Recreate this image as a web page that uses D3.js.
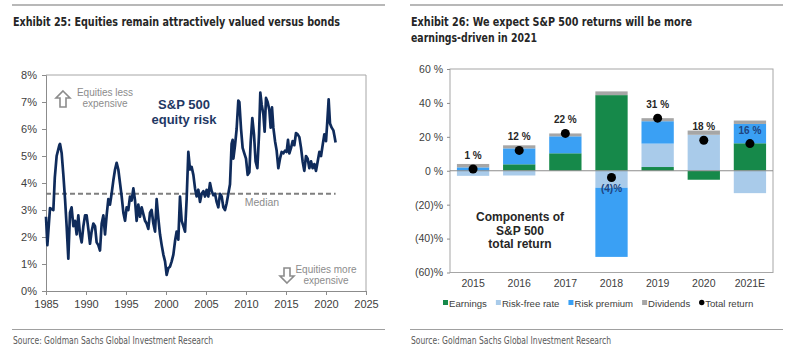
<!DOCTYPE html>
<html>
<head>
<meta charset="utf-8" />
<title>Exhibits 25 and 26</title>
<script src="https://cdn.jsdelivr.net/npm/d3@7"></script>
<style>
  body { margin: 0; background: #fff; }
  svg text { font-family: "Liberation Sans", Arial, sans-serif; }
  .title { font-family: "Liberation Sans Narrow", "DejaVu Sans Condensed", sans-serif; font-weight: bold; font-size: 13px; fill: #262626; }
  .source { font-family: "Liberation Sans Narrow", "DejaVu Sans Condensed", sans-serif; font-size: 10.5px; fill: #595959; }
  .axis text { font-size: 10.5px; fill: #404040; }
  .axis path, .axis line { stroke: #8c8c8c; }
</style>
</head>
<body>
<svg id="chart" width="796" height="352"></svg>
<script>
// ---- Exhibit 25 data: S&P 500 equity risk premium (%)
var erpYears = [1985.0, 1985.17, 1985.5, 1985.92, 1986.1, 1986.33, 1986.67, 1986.75, 1986.96, 1987.17,
  1987.38, 1987.58, 1987.79, 1988.0, 1988.2, 1988.42, 1988.63, 1988.83, 1989.04, 1989.25,
  1989.46, 1989.67, 1989.88, 1990.08, 1990.29, 1990.5, 1990.7, 1990.92, 1991.13, 1991.33,
  1991.54, 1991.75, 1991.96, 1992.17, 1992.38, 1992.58, 1992.79, 1993.0, 1993.2, 1993.42,
  1993.63, 1993.83, 1994.04, 1994.25, 1994.46, 1994.67, 1994.88, 1995.08, 1995.29, 1995.5,
  1995.7, 1995.92, 1996.13, 1996.33, 1996.54, 1996.75, 1996.96, 1997.17, 1997.38, 1997.58,
  1997.79, 1998.0, 1998.2, 1998.42, 1998.63, 1998.83, 1999.04, 1999.25, 1999.46, 1999.67,
  1999.88, 2000.08, 2000.29, 2000.5, 2000.71, 2000.92, 2001.13, 2001.33, 2001.54, 2001.75,
  2001.96, 2002.17, 2002.38, 2002.58, 2002.79, 2003.0, 2003.2, 2003.42, 2003.63, 2003.83,
  2004.04, 2004.25, 2004.46, 2004.67, 2004.88, 2005.08, 2005.29, 2005.5, 2005.71, 2005.92,
  2006.13, 2006.33, 2006.54, 2006.75, 2006.96, 2007.17, 2007.38, 2007.58, 2007.79, 2008.0,
  2008.2, 2008.33, 2008.42, 2008.63, 2008.83, 2009.04, 2009.17, 2009.38, 2009.58, 2009.79,
  2010.0, 2010.21, 2010.42, 2010.58, 2010.79, 2011.0, 2011.2, 2011.42, 2011.63, 2011.79,
  2011.96, 2012.17, 2012.33, 2012.5, 2012.7, 2012.92, 2013.08, 2013.25, 2013.42, 2013.63,
  2013.83, 2014.04, 2014.25, 2014.46, 2014.67, 2014.88, 2015.08, 2015.25, 2015.42, 2015.63,
  2015.83, 2016.04, 2016.25, 2016.46, 2016.67, 2016.88, 2017.08, 2017.29, 2017.5, 2017.71,
  2017.92, 2018.13, 2018.33, 2018.54, 2018.75, 2018.96, 2019.17, 2019.38, 2019.58, 2019.79,
  2020.0, 2020.17, 2020.33, 2020.5, 2020.71, 2020.92, 2021.08, 2021.2];
var erpValues = [2.75, 1.7, 3.07, 3.0, 4.2, 5.0, 5.4, 5.45, 5.1, 4.3,
  3.4, 2.4, 1.2, 2.9, 3.1, 2.4, 2.6, 2.1, 2.8, 2.1,
  1.8, 2.4, 2.8, 2.8, 2.3, 1.75, 2.2, 2.5, 2.4, 1.8,
  1.7, 1.5, 2.5, 2.8, 2.1, 2.8, 3.4, 3.2, 3.6, 4.1,
  4.5, 4.75, 4.5, 4.0, 3.5, 2.9, 2.6, 3.1, 3.0, 3.5,
  3.35, 3.8, 3.35, 2.6, 3.2, 2.75, 3.1, 2.85, 2.6, 2.5,
  2.3, 2.9, 3.0, 2.5, 2.2, 3.4, 2.7, 2.1, 1.7, 1.35,
  1.1, 0.6, 0.85, 0.9, 1.1, 1.35, 1.85, 2.2, 1.9, 3.5,
  2.6, 2.4, 2.2, 3.4, 5.15, 4.5, 4.6, 4.3, 3.8, 3.5,
  3.75, 3.3, 3.6, 3.7, 3.5, 3.75, 3.5, 4.0, 3.7, 3.55,
  3.6, 3.3, 3.1, 3.6, 3.5, 3.1, 3.0, 3.25, 3.6, 3.95,
  5.45, 5.6, 4.9, 5.4, 6.0, 7.05, 7.0, 6.0, 5.3, 5.1,
  4.9, 4.3, 4.4, 5.5, 6.4, 5.8, 4.8, 4.55, 5.8, 7.35,
  6.9, 6.55, 5.9, 7.15, 7.0, 6.7, 6.05, 6.8, 6.05, 5.55,
  5.2, 4.55, 4.9, 5.15, 5.1, 5.2, 5.15, 5.6, 5.1, 5.3,
  5.55, 5.4, 5.85, 5.8, 5.7, 5.3, 4.8, 4.45, 5.0, 4.9,
  4.55, 4.8, 4.55, 4.7, 4.45, 4.8, 5.15, 5.0, 5.4, 5.8,
  5.55, 6.3, 7.1, 6.2, 6.05, 5.95, 5.7, 5.5];
var erpMedian = 3.6;
var erpYearTicks = [1985, 1990, 1995, 2000, 2005, 2010, 2015, 2020, 2025];
var erpPctTicks = [0, 1, 2, 3, 4, 5, 6, 7, 8];

// ---- Exhibit 26 data: components of S&P 500 total return (%)
var retCategories = ["2015", "2016", "2017", "2018", "2019", "2020", "2021E"];
var earnings    = [0.0, 3.8, 10.3, 44.6, 2.2, -5.3, 16.2];
var riskFree    = [-3.0, -2.8, 0.0, -10.0, 13.8, 21.2, -13.2];
var riskPremium = [2.0, 9.4, 10.0, -40.8, 13.2, 0.0, 11.4];
var dividends   = [2.0, 1.8, 1.7, 2.2, 1.8, 2.5, 2.0];
var totalReturn = [1, 12, 22, -4, 31, 18, 16];
var totalLabels = ["1 %", "12 %", "22 %", "(4)%", "31 %", "18 %", "16 %"];
var retPctTicks = [-60, -40, -20, 0, 20, 40, 60];
var seriesNames = ["Earnings", "Risk-free rate", "Risk premium", "Dividends"];

var svg = d3.select("#chart");
svg.append("rect").attr("width", 796).attr("height", 352).attr("fill", "#fff");

// header / footer rules and texts
function frameText(x0, x1, titles, widths) {
  svg.append("line").attr("x1", x0).attr("x2", x1).attr("y1", 5).attr("y2", 5)
    .attr("stroke", "#a0a0a0").attr("stroke-width", 1.5);
  svg.append("line").attr("x1", x0).attr("x2", x1).attr("y1", 329.5).attr("y2", 329.5)
    .attr("stroke", "#a0a0a0").attr("stroke-width", 1);
  titles.forEach(function(t, i) {
    svg.append("text").attr("class", "title").attr("x", x0 + 1).attr("y", 26 + i * 15.5)
      .attr("textLength", widths[i]).attr("lengthAdjust", "spacingAndGlyphs").text(t);
  });
  svg.append("text").attr("class", "source").attr("x", x0 + 1).attr("y", 344)
    .attr("textLength", 200).attr("lengthAdjust", "spacingAndGlyphs")
    .text("Source: Goldman Sachs Global Investment Research");
}
frameText(12, 385, ["Exhibit 25: Equities remain attractively valued versus bonds"], [327]);
frameText(410, 783, ["Exhibit 26: We expect S&P 500 returns will be more", "earnings-driven in 2021"], [281, 126]);

// ================= Exhibit 25 =================
var x1 = d3.scaleLinear().domain([1985, 2025]).range([46, 366]);
var y1 = d3.scaleLinear().domain([0, 8]).range([291, 75]);
var g1 = svg.append("g");

// top / right frame
g1.append("path").attr("d", "M" + x1(1985) + "," + y1(8) + "H" + x1(2025) + "V" + y1(0))
  .attr("fill", "none").attr("stroke", "#a6a6a6");

g1.append("g").attr("class", "axis").attr("transform", "translate(0," + y1(0) + ")")
  .call(d3.axisBottom(x1).tickValues(erpYearTicks).tickFormat(d3.format("d")).tickSize(4).tickPadding(5))
  .selectAll("text").style("font-size", "11px");
g1.append("g").attr("class", "axis").attr("transform", "translate(" + x1(1985) + ",0)")
  .call(d3.axisLeft(y1).tickValues(erpPctTicks).tickFormat(function(d) { return d + "%"; }).tickSize(4).tickPadding(5))
  .selectAll("text").style("font-size", "11px");

// median
g1.append("line").attr("x1", x1(1985)).attr("x2", x1(2021.2))
  .attr("y1", y1(erpMedian)).attr("y2", y1(erpMedian))
  .attr("stroke", "#7f7f7f").attr("stroke-width", 2).attr("stroke-dasharray", "5,3");
g1.append("text").attr("x", 262).attr("y", y1(erpMedian) + 12).attr("text-anchor", "middle")
  .attr("font-size", 10.5).attr("fill", "#8c8c8c").text("Median");

// series line
var erpLine = d3.line().x(function(d, i) { return x1(erpYears[i]); }).y(function(d) { return y1(d); });
g1.append("path").datum(erpValues).attr("d", erpLine).attr("fill", "none")
  .attr("stroke", "#0f2b5b").attr("stroke-width", 2.7).attr("stroke-linejoin", "round");

// labels
g1.append("text").attr("x", 184).attr("y", 109).attr("text-anchor", "middle")
  .attr("font-size", 13).attr("font-weight", "bold").attr("fill", "#1f3864").text("S&P 500");
g1.append("text").attr("x", 184).attr("y", 124).attr("text-anchor", "middle")
  .attr("font-size", 13).attr("font-weight", "bold").attr("fill", "#1f3864").text("equity risk");

function blockArrow(cx, top, bottom, up) {
  var head = 7, hw = 7, sw = 3;
  var p = up
    ? [[cx, top], [cx + hw, top + head], [cx + sw, top + head], [cx + sw, bottom], [cx - sw, bottom], [cx - sw, top + head], [cx - hw, top + head]]
    : [[cx, bottom], [cx + hw, bottom - head], [cx + sw, bottom - head], [cx + sw, top], [cx - sw, top], [cx - sw, bottom - head], [cx - hw, bottom - head]];
  g1.append("path").attr("d", "M" + p.join("L") + "Z").attr("fill", "#fff")
    .attr("stroke", "#8c8c8c").attr("stroke-width", 1.6);
}
blockArrow(63, 91, 107, true);
blockArrow(287, 268, 283, false);
[["Equities less", 96], ["expensive", 107]].forEach(function(t) {
  g1.append("text").attr("x", 105).attr("y", t[1]).attr("text-anchor", "middle")
    .attr("font-size", 10).attr("fill", "#8c8c8c").text(t[0]);
});
[["Equities more", 273], ["expensive", 284]].forEach(function(t) {
  g1.append("text").attr("x", 326).attr("y", t[1]).attr("text-anchor", "middle")
    .attr("font-size", 10).attr("fill", "#8c8c8c").text(t[0]);
});

// ================= Exhibit 26 =================
var colors = ["#16894a", "#a9cbea", "#3aa0f4", "#a6a6a6"];
var x2 = d3.scaleBand().domain(retCategories).range([450, 773]).paddingInner(0.3).paddingOuter(0.15);
var y2 = d3.scaleLinear().domain([-60, 60]).range([272.5, 69]);
var g2 = svg.append("g");

var rows = retCategories.map(function(c, i) {
  return { cat: c, "Earnings": earnings[i], "Risk-free rate": riskFree[i],
    "Risk premium": riskPremium[i], "Dividends": dividends[i] };
});
var stacked = d3.stack().keys(seriesNames).offset(d3.stackOffsetDiverging)(rows);

g2.append("rect").attr("x", 450).attr("y", y2(60)).attr("width", 323).attr("height", y2(-60) - y2(60))
  .attr("fill", "none").attr("stroke", "#a6a6a6");

g2.selectAll("g.series").data(stacked).enter().append("g").attr("class", "series")
  .attr("fill", function(d, i) { return colors[i]; })
  .selectAll("rect").data(function(d) { return d; }).enter().append("rect")
  .attr("x", function(d) { return x2(d.data.cat); })
  .attr("width", x2.bandwidth())
  .attr("y", function(d) { return y2(Math.max(d[0], d[1])); })
  .attr("height", function(d) { return Math.abs(y2(d[0]) - y2(d[1])); });

g2.append("line").attr("x1", 450).attr("x2", 773).attr("y1", y2(0)).attr("y2", y2(0))
  .attr("stroke", "#8c8c8c");

var ya = g2.append("g").attr("class", "axis").attr("transform", "translate(450,0)")
  .call(d3.axisLeft(y2).tickValues(retPctTicks).tickSize(3).tickPadding(4)
    .tickFormat(function(d) { return d < 0 ? "(" + (-d) + ")%" : d + " %"; }));
ya.select(".domain").remove();
var xa = g2.append("g").attr("class", "axis").attr("transform", "translate(0," + y2(-60) + ")")
  .call(d3.axisBottom(x2).tickSize(0).tickPadding(7));
xa.select(".domain").remove();

// total return dots and labels
g2.selectAll("circle.tot").data(totalReturn).enter().append("circle").attr("class", "tot")
  .attr("cx", function(d, i) { return x2(retCategories[i]) + x2.bandwidth() / 2; })
  .attr("cy", function(d) { return y2(d); }).attr("r", 4.5).attr("fill", "#000");
g2.selectAll("text.tot").data(totalReturn).enter().append("text").attr("class", "tot")
  .attr("x", function(d, i) { return x2(retCategories[i]) + x2.bandwidth() / 2; })
  .attr("y", function(d) { return d < 0 ? y2(d) + 14 : y2(d) - 10; })
  .attr("text-anchor", "middle").attr("font-size", 10).attr("font-weight", "bold")
  .attr("fill", function(d, i) {
    var top = d3.sum([earnings[i], riskFree[i], riskPremium[i], dividends[i]], function(v) { return v > 0 ? v : 0; });
    var bot = d3.sum([earnings[i], riskFree[i], riskPremium[i], dividends[i]], function(v) { return v < 0 ? v : 0; });
    var ly = d < 0 ? y2(d) + 10 : y2(d) - 14;
    return (ly > y2(top) && ly < y2(bot)) ? "#1f4480" : "#262626";
  })
  .text(function(d, i) { return totalLabels[i]; });

g2.append("g").selectAll("text").data(["Components of", "S&P 500", "total return"]).enter().append("text")
  .attr("x", 520).attr("y", function(d, i) { return 221 + i * 13.5; }).attr("text-anchor", "middle")
  .attr("font-size", 12).attr("font-weight", "bold").attr("fill", "#262626").text(function(d) { return d; });

// legend
var legItems = seriesNames.concat(["Total return"]);
var lx = 443;
legItems.forEach(function(name, i) {
  if (i < 4) {
    g2.append("rect").attr("x", lx).attr("y", 300).attr("width", 5).attr("height", 5).attr("fill", colors[i]);
  } else {
    g2.append("circle").attr("cx", lx + 2.5).attr("cy", 302.5).attr("r", 2.7).attr("fill", "#000");
  }
  var t = g2.append("text").attr("x", lx + 6).attr("y", 306.5).attr("font-size", 9.6)
    .attr("fill", "#404040").text(name);
  lx += 6 + t.node().getComputedTextLength() + 9;
});
</script>
</body>
</html>
